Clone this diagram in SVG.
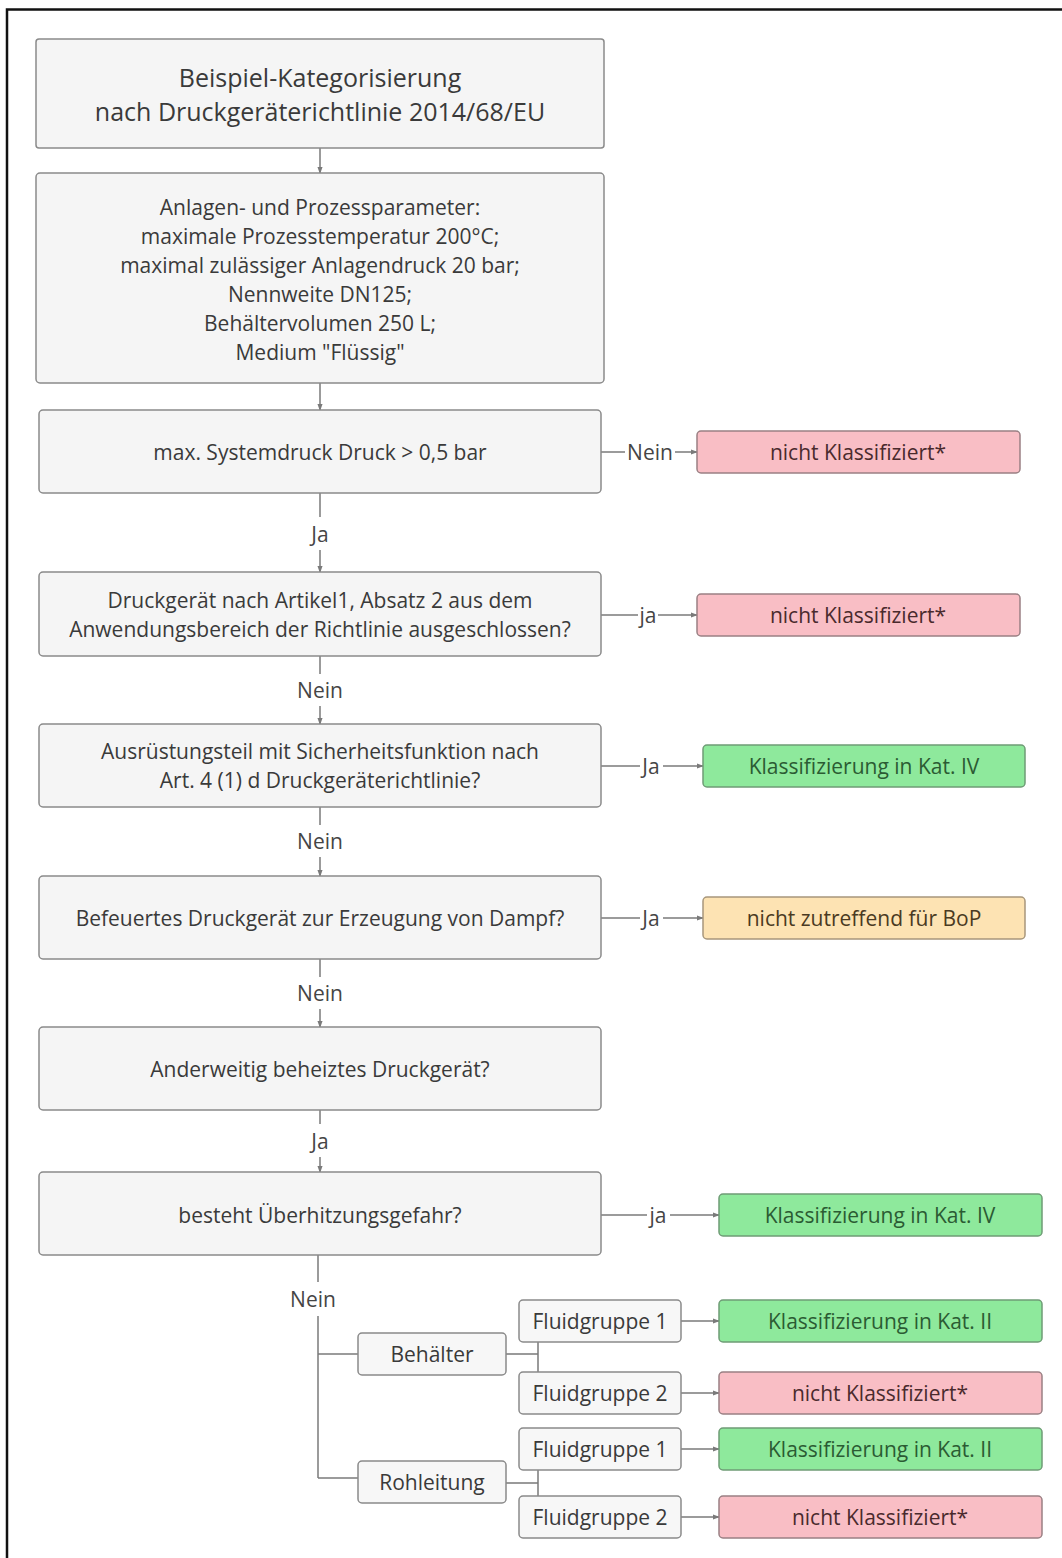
<svg xmlns="http://www.w3.org/2000/svg" width="1062" height="1558" viewBox="0 0 1062 1558">
  <style>
    .frame { stroke: #111; stroke-width: 2.5; fill: none; }
    .box { fill: #f5f5f5; stroke: #8a8a8a; stroke-width: 1.5; }
    .small { fill: #f7f7f7; stroke: #8a8a8a; stroke-width: 1.5; }
    .red { fill: #f9bec5; stroke: #9a8084; stroke-width: 1.5; }
    .green { fill: #8ee99c; stroke: #6f9c76; stroke-width: 1.5; }
    .yellow { fill: #fde3b3; stroke: #a8977c; stroke-width: 1.5; }
    text { font-family: "Open Sans", "Noto Sans", "Liberation Sans", sans-serif; fill: #3a3a3a; text-anchor: middle; dominant-baseline: central; }
    .t1 { font-size: 25px; }
    .t2 { font-size: 21px; }
    .t3 { font-size: 21px; }
    .lbl { font-size: 21px; fill: #454545; }
    .tr { fill: #4a2a2d; }
    .tg { fill: #2b5b33; }
    .ty { fill: #4a3a22; }
    .conn path { stroke: #7a7a7a; stroke-width: 1.5; fill: none; }
    .conn path.arr { marker-end: url(#ah); }
  </style>
  <defs>
    <marker id="ah" viewBox="0 0 8 8" refX="7" refY="4" markerWidth="7" markerHeight="7" markerUnits="userSpaceOnUse" orient="auto">
      <path d="M0,1 L8,4 L0,7 Z" fill="#7a7a7a"/>
    </marker>
  </defs>

  <rect width="1062" height="1558" fill="#ffffff"/>
  <path class="frame" d="M7,1558 V9.5 H1062"/>

  <!-- connectors -->
  <g id="connectors" class="conn">
    <path class="arr" d="M320,148 V173"/>
    <path class="arr" d="M320,383 V410"/>
    <path d="M320,493 V517"/>
    <path class="arr" d="M320,550 V572"/>
    <path d="M320,656 V674"/>
    <path class="arr" d="M320,706 V724"/>
    <path d="M320,807 V825"/>
    <path class="arr" d="M320,857 V876"/>
    <path d="M320,959 V977"/>
    <path class="arr" d="M320,1009 V1027"/>
    <path d="M320,1110 V1124"/>
    <path class="arr" d="M320,1157 V1172"/>
    <path d="M318,1255 V1282"/>
    <path d="M318,1316 V1478"/>
    <path d="M318,1354 H358"/>
    <path d="M318,1478 H358"/>
    <path d="M506,1354 H538 M538,1342 V1372"/>
    <path d="M506,1483 H538 M538,1470 V1496"/>
    <path class="arr" d="M681,1321 H719"/>
    <path class="arr" d="M681,1393 H719"/>
    <path class="arr" d="M681,1449 H719"/>
    <path class="arr" d="M681,1517 H719"/>
    <path d="M601,452 H625"/>
    <path class="arr" d="M675,452 H697"/>
    <path d="M601,615 H638"/>
    <path class="arr" d="M658,615 H697"/>
    <path d="M601,766 H640"/>
    <path class="arr" d="M663,766 H703"/>
    <path d="M601,918 H640"/>
    <path class="arr" d="M663,918 H703"/>
    <path d="M601,1215 H647"/>
    <path class="arr" d="M670,1215 H719"/>
    <text class="lbl" x="320" y="534">Ja</text>
    <text class="lbl" x="320" y="690">Nein</text>
    <text class="lbl" x="320" y="841">Nein</text>
    <text class="lbl" x="320" y="993">Nein</text>
    <text class="lbl" x="320" y="1141">Ja</text>
    <text class="lbl" x="313" y="1299">Nein</text>
    <text class="lbl" x="650" y="452">Nein</text>
    <text class="lbl" x="648" y="615">ja</text>
    <text class="lbl" x="651" y="766">Ja</text>
    <text class="lbl" x="651" y="918">Ja</text>
    <text class="lbl" x="658" y="1215">ja</text>
  </g>

  <g id="title">
    <rect class="box" x="36" y="39" width="568" height="109" rx="3"/>
    <text class="t1" x="320" y="77">Beispiel-Kategorisierung</text>
    <text class="t1" x="320" y="111">nach Druckgeräterichtlinie 2014/68/EU</text>
  </g>

  <g id="parameter">
    <rect class="box" x="36" y="173" width="568" height="210" rx="4"/>
    <text class="t2" x="320" y="207">Anlagen- und Prozessparameter:</text>
    <text class="t2" x="320" y="236">maximale Prozesstemperatur 200°C;</text>
    <text class="t2" x="320" y="265">maximal zulässiger Anlagendruck 20 bar;</text>
    <text class="t2" x="320" y="294">Nennweite DN125;</text>
    <text class="t2" x="320" y="323">Behältervolumen 250 L;</text>
    <text class="t2" x="320" y="352">Medium "Flüssig"</text>
  </g>

  <g id="q-druck">
    <rect class="box" x="39" y="410" width="562" height="83" rx="4"/>
    <text class="t3" x="320" y="452">max. Systemdruck Druck &gt; 0,5 bar</text>
  </g>
  <g id="r-druck">
    <rect class="red" x="697" y="431" width="323" height="42" rx="4"/>
    <text class="t3 tr" x="858" y="452">nicht Klassifiziert*</text>
  </g>

  <g id="q-artikel">
    <rect class="box" x="39" y="572" width="562" height="84" rx="4"/>
    <text class="t3" x="320" y="600">Druckgerät nach Artikel1, Absatz 2 aus dem</text>
    <text class="t3" x="320" y="629">Anwendungsbereich der Richtlinie ausgeschlossen?</text>
  </g>
  <g id="r-artikel">
    <rect class="red" x="697" y="594" width="323" height="42" rx="4"/>
    <text class="t3 tr" x="858" y="615">nicht Klassifiziert*</text>
  </g>

  <g id="q-sicherheit">
    <rect class="box" x="39" y="724" width="562" height="83" rx="4"/>
    <text class="t3" x="320" y="751">Ausrüstungsteil mit Sicherheitsfunktion nach</text>
    <text class="t3" x="320" y="780">Art. 4 (1) d Druckgeräterichtlinie?</text>
  </g>
  <g id="r-sicherheit">
    <rect class="green" x="703" y="745" width="322" height="42" rx="4"/>
    <text class="t3 tg" x="864" y="766">Klassifizierung in Kat. IV</text>
  </g>

  <g id="q-befeuert">
    <rect class="box" x="39" y="876" width="562" height="83" rx="4"/>
    <text class="t3" x="320" y="918">Befeuertes Druckgerät zur Erzeugung von Dampf?</text>
  </g>
  <g id="r-befeuert">
    <rect class="yellow" x="703" y="897" width="322" height="42" rx="4"/>
    <text class="t3 ty" x="864" y="918">nicht zutreffend für BoP</text>
  </g>

  <g id="q-beheizt">
    <rect class="box" x="39" y="1027" width="562" height="83" rx="4"/>
    <text class="t3" x="320" y="1069">Anderweitig beheiztes Druckgerät?</text>
  </g>

  <g id="q-ueberhitzung">
    <rect class="box" x="39" y="1172" width="562" height="83" rx="4"/>
    <text class="t3" x="320" y="1215">besteht Überhitzungsgefahr?</text>
  </g>
  <g id="r-ueberhitzung">
    <rect class="green" x="719" y="1194" width="323" height="42" rx="4"/>
    <text class="t3 tg" x="880" y="1215">Klassifizierung in Kat. IV</text>
  </g>

  <g id="behaelter">
    <rect class="small" x="358" y="1333" width="148" height="42" rx="4"/>
    <text class="t3" x="432" y="1354">Behälter</text>
  </g>
  <g id="b-fg1">
    <rect class="small" x="519" y="1300" width="162" height="42" rx="4"/>
    <text class="t3" x="600" y="1321">Fluidgruppe 1</text>
  </g>
  <g id="b-fg2">
    <rect class="small" x="519" y="1372" width="162" height="42" rx="4"/>
    <text class="t3" x="600" y="1393">Fluidgruppe 2</text>
  </g>
  <g id="b-r1">
    <rect class="green" x="719" y="1300" width="323" height="42" rx="4"/>
    <text class="t3 tg" x="880" y="1321">Klassifizierung in Kat. II</text>
  </g>
  <g id="b-r2">
    <rect class="red" x="719" y="1372" width="323" height="42" rx="4"/>
    <text class="t3 tr" x="880" y="1393">nicht Klassifiziert*</text>
  </g>

  <g id="rohrleitung">
    <rect class="small" x="358" y="1461" width="148" height="42" rx="4"/>
    <text class="t3" x="432" y="1482">Rohleitung</text>
  </g>
  <g id="r-fg1">
    <rect class="small" x="519" y="1428" width="162" height="42" rx="4"/>
    <text class="t3" x="600" y="1449">Fluidgruppe 1</text>
  </g>
  <g id="r-fg2">
    <rect class="small" x="519" y="1496" width="162" height="42" rx="4"/>
    <text class="t3" x="600" y="1517">Fluidgruppe 2</text>
  </g>
  <g id="r-r1">
    <rect class="green" x="719" y="1428" width="323" height="42" rx="4"/>
    <text class="t3 tg" x="880" y="1449">Klassifizierung in Kat. II</text>
  </g>
  <g id="r-r2">
    <rect class="red" x="719" y="1496" width="323" height="42" rx="4"/>
    <text class="t3 tr" x="880" y="1517">nicht Klassifiziert*</text>
  </g>
</svg>
